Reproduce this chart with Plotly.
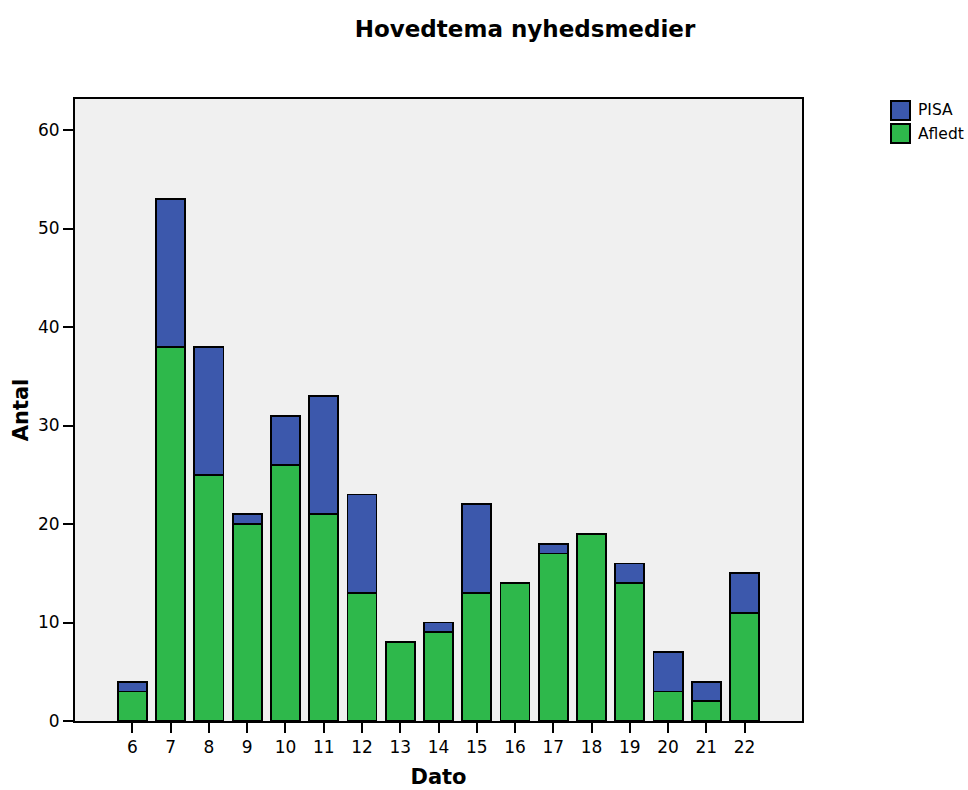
import plotly.graph_objects as go

dates = [6, 7, 8, 9, 10, 11, 12, 13, 14, 15, 16, 17, 18, 19, 20, 21, 22]
afledt = [3, 38, 25, 20, 26, 21, 13, 8, 9, 13, 14, 17, 19, 14, 3, 2, 11]
pisa = [1, 15, 13, 1, 5, 12, 10, 0, 1, 9, 0, 1, 0, 2, 4, 2, 4]
series_names = ["PISA", "Afledt"]
series_colors = ["#3C58AC", "#2EB84B"]

FONT = "DejaVu Sans, Liberation Sans, Arial, sans-serif"
W, H = 968, 790
L, R, T, B = 75, 166, 99, 69
PW, PH = W - L - R, H - T - B

fig = go.Figure()
fig.add_trace(go.Bar(x=dates, y=afledt, name="Afledt", width=0.76, showlegend=False,
                     marker=dict(color=series_colors[1], line=dict(color="black", width=1.8))))
fig.add_trace(go.Bar(x=dates, y=pisa, name="PISA", width=0.76, showlegend=False,
                     marker=dict(color=series_colors[0], line=dict(color="black", width=1.8))))

# manual legend (paper coordinates)
def px_x(x):
    return (x - L) / PW

def px_y(y):
    return 1 - (y - T) / PH

shapes = []
annotations = []
legend_tops = [101, 124]
for name, col, top in zip(series_names, series_colors, legend_tops):
    shapes.append(dict(type="rect", xref="paper", yref="paper",
                       x0=px_x(891), x1=px_x(910), y0=px_y(top), y1=px_y(top + 19),
                       fillcolor=col, line=dict(color="black", width=2)))
    annotations.append(dict(text=name, xref="paper", yref="paper", x=px_x(916),
                            y=px_y(top + 9.5), xanchor="left", yanchor="middle",
                            showarrow=False, font=dict(size=15.5, family=FONT, color="black")))

fig.update_layout(
    width=W, height=H,
    barmode="stack",
    margin=dict(l=L, r=R, t=T, b=B, autoexpand=False),
    paper_bgcolor="white",
    plot_bgcolor="#F0F0F0",
    font=dict(family=FONT, size=17, color="black"),
    title=dict(text="<b>Hovedtema nyhedsmedier</b>", x=525 / W, xanchor="center",
               y=1 - 29 / H, yanchor="middle", font=dict(size=23, family=FONT)),
    showlegend=False,
    shapes=shapes,
    annotations=annotations,
    xaxis=dict(range=[4.5, 23.5], tickvals=dates, ticktext=[str(d) for d in dates],
               showgrid=False, zeroline=False, showline=True, linecolor="black", linewidth=2,
               mirror=True, ticks="outside", ticklen=10, tickwidth=2, tickcolor="black",
               tickfont=dict(size=17),
               title=dict(text="<b>Dato</b>", font=dict(size=21), standoff=13)),
    yaxis=dict(range=[0, 63.15], tickvals=[0, 10, 20, 30, 40, 50, 60],
               showgrid=False, zeroline=False, showline=True, linecolor="black", linewidth=2,
               mirror=True, ticks="outside", ticklen=10, tickwidth=2, tickcolor="black",
               tickfont=dict(size=17),
               title=dict(text="<b>Antal</b>", font=dict(size=21), standoff=4)),
)

fig.write_html("out.html", config={"displayModeBar": False},
               post_script="document.body.style.margin='0';document.body.style.overflow='hidden';")
